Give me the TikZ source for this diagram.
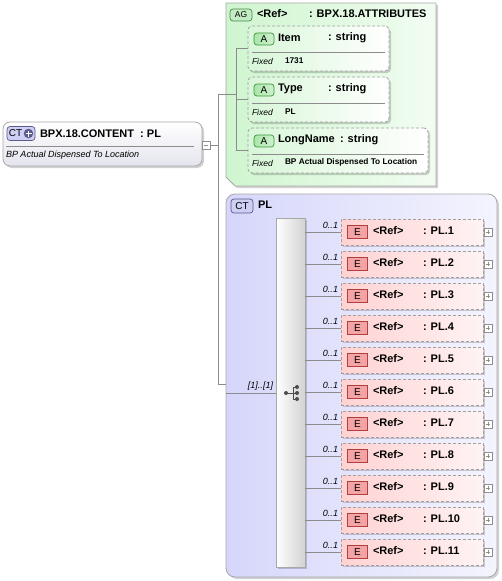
\documentclass[tikz,border=0pt]{standalone}
\usepackage{fontspec}
\setmainfont{Liberation Sans}
\usetikzlibrary{shadows,calc}
\definecolor{bordergray}{HTML}{A8A8A8}
\definecolor{dashgray}{HTML}{A0A0A0}
\definecolor{conngray}{HTML}{8C8C8C}
\definecolor{ctbot}{HTML}{E4E4EE}
\definecolor{ctbadgefill}{HTML}{CFCFF5}
\definecolor{ctbadgedraw}{HTML}{5A5A8C}
\definecolor{agleft}{HTML}{CFF5CF}
\definecolor{agright}{HTML}{F2FDF2}
\definecolor{attleft}{HTML}{D8F6D8}
\definecolor{agbadgefill}{HTML}{C4ECC4}
\definecolor{agbadgedraw}{HTML}{4A8A4A}
\definecolor{abadgefill}{HTML}{A8E6A8}
\definecolor{abadgedraw}{HTML}{3C963C}
\definecolor{ctplleft}{HTML}{D6D6FB}
\definecolor{ctplright}{HTML}{F4F4FE}
\definecolor{elleft}{HTML}{FFD2D2}
\definecolor{elright}{HTML}{FFF3F3}
\definecolor{ebadgefill}{HTML}{F4A4A4}
\definecolor{ebadgedraw}{HTML}{B04040}
\definecolor{barright}{HTML}{D2D2D2}
\definecolor{pmgray}{HTML}{909090}
\begin{document}
\begin{tikzpicture}[x=1pt,y=-1pt,
  every node/.style={inner sep=0pt, outer sep=0pt},
  shadowed/.style={drop shadow={shadow xshift=2pt, shadow yshift=-2pt, fill=black, opacity=0.18}},
  rootbox/.style={draw=bordergray, line width=0.8pt, rounded corners=7pt, top color=white, bottom color=ctbot, anchor=north west, shadowed},
  agshape/.style={draw=bordergray, line width=0.8pt, left color=agleft, right color=agright, shadowed},
  attbox/.style={draw=dashgray, line width=0.8pt, dash pattern=on 3pt off 2pt, rounded corners=4pt, left color=attleft, right color=white, anchor=north west, shadowed},
  ctplbox/.style={draw=bordergray, line width=0.8pt, rounded corners=9pt, left color=ctplleft, right color=ctplright, anchor=north west, shadowed},
  elbox/.style={draw=dashgray, line width=0.8pt, dash pattern=on 3pt off 2pt, left color=elleft, right color=elright, anchor=north west, shadowed},
  seqbar/.style={draw=bordergray, line width=0.8pt, left color=white, right color=barright, anchor=north west, shadowed},
  ctbadge/.style={draw=ctbadgedraw, fill=ctbadgefill, line width=0.7pt, rounded corners=3pt, font=\fontsize{10}{12}\selectfont},
  agbadge/.style={draw=agbadgedraw, fill=agbadgefill, line width=0.7pt, rounded corners=3pt, minimum width=22pt, minimum height=12pt, font=\fontsize{8.5}{10}\selectfont},
  abadge/.style={draw=abadgedraw, left color=abadgefill, right color=abadgefill!55!white, line width=0.7pt, rounded corners=3pt, minimum width=20pt, minimum height=12pt, font=\fontsize{10}{12}\selectfont},
  ebadge/.style={draw=ebadgedraw, fill=ebadgefill, line width=0.7pt, minimum width=20pt, minimum height=13pt, font=\fontsize{10}{12}\selectfont},
  lbl/.style={anchor=west, font=\fontsize{11}{13}\selectfont\bfseries},
  subl/.style={anchor=west, font=\fontsize{9}{11}\selectfont\itshape},
  fixl/.style={anchor=west, font=\fontsize{8.5}{10}\selectfont\itshape},
  fixv/.style={anchor=west, font=\fontsize{8.3}{10}\selectfont\bfseries},
  card/.style={anchor=south east, font=\fontsize{9}{11}\selectfont\itshape},
  divline/.style={draw=conngray, line width=0.7pt},
  conn/.style={draw=conngray, line width=0.8pt},
  pm/.style={draw=pmgray, fill=white, minimum size=8pt, line width=0.6pt},
  pmplus/.style={pm, path picture={\draw[pmgray, line width=0.6pt] ([xshift=-2.3pt]path picture bounding box.center) -- ([xshift=2.3pt]path picture bounding box.center) ([yshift=-2.3pt]path picture bounding box.center) -- ([yshift=2.3pt]path picture bounding box.center);}},
  pmminus/.style={pm, path picture={\draw[pmgray, line width=0.6pt] ([xshift=-2.3pt]path picture bounding box.center) -- ([xshift=2.3pt]path picture bounding box.center);}},
]
\useasboundingbox (0,0) rectangle (501,581);

% ---------- root element ----------
\node[rootbox, minimum width=199pt, minimum height=44pt] (root) at (3,122) {};
\draw[divline] ($(root.north west)+(3,24.5)$) -- ($(root.north east)+(-8,24.5)$);
\node[ctbadge, minimum width=28pt, minimum height=14pt, anchor=north west] (rootb) at (7,126.5) {};
\node[font=\fontsize{10}{12}\selectfont] (rootbt) at (15.5,133.5) {CT};
\node[circle, fill=ctbadgedraw, minimum size=9.5pt, path picture={\draw[white, line width=1.6pt] ([xshift=-3pt]path picture bounding box.center) -- ([xshift=3pt]path picture bounding box.center) ([yshift=-3pt]path picture bounding box.center) -- ([yshift=3pt]path picture bounding box.center);}] (rootbi) at (28.5,133.5) {};
\node[lbl] (roott) at (40,133.5) {BPX.18.CONTENT\ \ : PL};
\node[subl] (roots) at (6,155) {BP Actual Dispensed To Location};
\node[pmminus] (rootm) at (206,145) {};

% ---------- trunk ----------
\coordinate (tr) at (218,145);
\coordinate (trt) at (218,94);
\coordinate (trb) at (218,384);
\coordinate (agin) at (236,94);
\draw[conn] (rootm) -- (tr);
\draw[conn] (trt) -- (trb);

% ---------- attribute group ----------
\node[minimum width=210pt, minimum height=183pt, anchor=north west] (ag) at (226,3) {};
\draw[agshape] (ag.north west) -- (ag.north east) -- (ag.south east) -- ($(ag.south west)+(9,0)$) -- ($(ag.south west)+(0,-9)$) -- cycle;
\node[agbadge] (agb) at (241,15) {AG};
\node[lbl] (agr) at (257,14) {<Ref>};
\node[lbl] (agt) at (309,14) {: BPX.18.ATTRIBUTES};
\draw[conn] (trt) -- (agin);

% Item
\node[attbox, minimum width=141pt, minimum height=45pt] (item) at (248,26) {};
\node[abadge] (itema) at (264,39) {A};
\node[lbl] (itemn) at (278,38) {Item};
\node[lbl] (itemt) at (328,38) {: string};
\draw[divline] ($(item.north west)+(4,26.5)$) -- ($(item.north east)+(-4,26.5)$);
\node[fixl] (itemf) at (252,61) {Fixed};
\node[fixv] (itemv) at (285,60.5) {1731};

% Type
\node[attbox, minimum width=141pt, minimum height=45pt] (type) at (248,77) {};
\node[abadge] (typea) at (264,90) {A};
\node[lbl] (typen) at (278,89) {Type};
\node[lbl] (typet) at (328,89) {: string};
\draw[divline] ($(type.north west)+(4,26.5)$) -- ($(type.north east)+(-4,26.5)$);
\node[fixl] (typef) at (252,112) {Fixed};
\node[fixv] (typev) at (285,111.5) {PL};

% LongName
\node[attbox, minimum width=180pt, minimum height=45pt] (lname) at (248,128) {};
\node[abadge] (lnamea) at (264,141) {A};
\node[lbl] (lnamen) at (278,140) {LongName};
\node[lbl] (lnamet) at (340,140) {: string};
\draw[divline] ($(lname.north west)+(4,26.5)$) -- ($(lname.north east)+(-4,26.5)$);
\node[fixl] (lnamef) at (252,163) {Fixed};
\node[fixv] (lnamev) at (285,162.5) {BP Actual Dispensed To Location};

\draw[conn] (agin |- item.west) -- (agin |- lname.west);
\draw[conn] (agin |- item.west) -- (item.west);
\draw[conn] (agin |- type.west) -- (type.west);
\draw[conn] (agin |- lname.west) -- (lname.west);

% ---------- complex type PL ----------
\node[ctplbox, minimum width=271pt, minimum height=383pt] (ctpl) at (226,194) {};
\draw[conn] (trb) -- (ctpl.west |- trb);
\node[ctbadge, minimum width=22pt, minimum height=14pt] (ctplb) at (242,206) {CT};
\node[lbl] (ctpln) at (258,205) {PL};

\node[seqbar, minimum width=29pt, minimum height=349pt] (seq) at (276,218) {};
\coordinate (seqin) at (226,393);
\draw[conn] (seqin) -- (seq.west |- seqin);
\node[card] (seqc) at (273,390) {[1]..[1]};

% sequence icon
\coordinate (si) at (291,393);
\draw[black!70, line width=0.8pt] ($(si)+(-5,0)$) -- ($(si)+(2,0)$) ($(si)+(2,-6)$) -- ($(si)+(2,6)$)
  ($(si)+(2,-6)$) -- ($(si)+(6,-6)$) ($(si)+(2,6)$) -- ($(si)+(6,6)$) ($(si)+(2,0)$) -- ($(si)+(6,0)$);
\fill[black!70] ($(si)+(-5,0)$) circle (2pt) ($(si)+(6,-6)$) circle (2pt) ($(si)+(6,0)$) circle (2pt) ($(si)+(6,6)$) circle (2pt);

\foreach \k in {0,...,10} {
  \pgfmathtruncatemacro{\n}{\k+1}
  \node[elbox, minimum width=142pt, minimum height=26pt] (e\n) at (341,{219+32*\k}) {};
  \node[ebadge] (eb\n) at ($(e\n.west)+(16.5,0)$) {E};
  \node[lbl] (er\n) at ($(e\n.west)+(32,-1)$) {<Ref>};
  \node[lbl] (et\n) at ($(e\n.west)+(82,-1)$) {: PL.\n};
  \node[pmplus] (ep\n) at ($(e\n.east)+(5,0)$) {};
  \draw[conn] (seq.east |- e\n.west) -- (e\n.west);
  \node[card] (ec\n) at ($(e\n.west)+(-3,-3)$) {0..1};
}
\end{tikzpicture}
\end{document}
